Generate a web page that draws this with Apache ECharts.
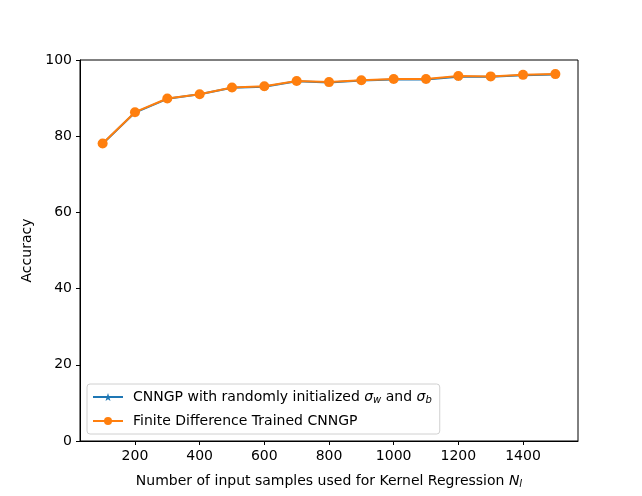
<!DOCTYPE html>
<html>
<head>
<meta charset="utf-8">
<script src="https://cdn.jsdelivr.net/npm/echarts@6/dist/echarts.min.js"></script>
<style>
html, body { margin: 0; padding: 0; background: #fff; }
#main { width: 642px; height: 496px; }
</style>
</head>
<body>
<div id="main"></div>
<script>
// data
var samples = [100, 200, 300, 400, 500, 600, 700, 800, 900, 1000, 1100, 1200, 1300, 1400, 1500];
var randomInit = [78.0, 86.2, 89.8, 91.0, 92.7, 93.0, 94.4, 94.1, 94.6, 94.9, 94.9, 95.6, 95.6, 96.0, 96.2];
var fdTrained = [78.1, 86.3, 89.9, 91.0, 92.8, 93.1, 94.5, 94.2, 94.7, 95.0, 95.0, 95.8, 95.7, 96.1, 96.3];
var xTicks = [200, 400, 600, 800, 1000, 1200, 1400];

var font = 'DejaVu Sans';
var star = 'path://M0,-10L2.35,-3.24L9.51,-3.09L3.8,1.24L5.88,8.09L0,4L-5.88,8.09L-3.8,1.24L-9.51,-3.09L-2.35,-3.24Z';

function pairs(ys) {
    return samples.map(function (x, i) { return [x, ys[i]]; });
}

var chart = echarts.init(document.getElementById('main'));

chart.setOption({
    animation: false,
    textStyle: { fontFamily: font },
    grid: { left: 80, right: 64, top: 60, bottom: 55 },
    legend: {
        orient: 'vertical',
        left: 87,
        top: 384,
        itemWidth: 30,
        itemHeight: 10,
        itemGap: 9,
        padding: [6, 8, 6, 5],
        borderColor: '#d0d0d0',
        borderWidth: 1,
        borderRadius: 3,
        backgroundColor: 'rgba(255,255,255,0.8)',
        textStyle: {
            fontFamily: font,
            fontSize: 14,
            color: '#000',
            padding: [0, 0, 0, 5],
            rich: {
                s: { fontFamily: font, fontStyle: 'italic', fontSize: 14, color: '#000' },
                sub: { fontFamily: font, fontStyle: 'italic', fontSize: 10, color: '#000', padding: [6, 0, 0, 0] }
            }
        },
        formatter: function (name) {
            if (name === 'random') {
                return 'CNNGP with randomly initialized {s|σ}{sub|w} and {s|σ}{sub|b}';
            }
            return 'Finite Difference Trained CNNGP';
        },
        data: ['random', 'fd']
    },
    xAxis: {
        type: 'value',
        min: 30,
        max: 1570,
        name: 'Number of input samples used for Kernel Regression {n|N}{sub|l}',
        nameLocation: 'middle',
        nameGap: 32,
        nameTextStyle: {
            fontFamily: font,
            fontSize: 14,
            color: '#000',
            rich: {
                n: { fontFamily: font, fontStyle: 'italic', fontSize: 14, color: '#000' },
                sub: { fontFamily: font, fontStyle: 'italic', fontSize: 10, color: '#000', padding: [6, 0, 0, 0] }
            }
        },
        splitLine: { show: false },
        axisLine: { onZero: false, lineStyle: { color: '#000', width: 1 } },
        axisTick: { customValues: xTicks, length: 4, lineStyle: { color: '#000' } },
        axisLabel: {
            customValues: xTicks, fontSize: 14, color: '#000', margin: 8, fontFamily: font,
            formatter: function (v) { return String(v); }
        }
    },
    yAxis: {
        type: 'value',
        min: 0,
        max: 100,
        interval: 20,
        name: 'Accuracy',
        nameLocation: 'middle',
        nameGap: 40,
        nameTextStyle: { fontFamily: font, fontSize: 14, color: '#000' },
        splitLine: { show: false },
        axisLine: { show: true, lineStyle: { color: '#000', width: 1 } },
        axisTick: { show: true, length: 4, lineStyle: { color: '#000' } },
        axisLabel: { fontSize: 14, color: '#000', margin: 8, fontFamily: font }
    },
    series: [
        {
            name: 'random',
            type: 'line',
            data: pairs(randomInit),
            symbol: star,
            symbolSize: 8,
            showAllSymbol: true,
            itemStyle: { color: '#1f77b4' },
            lineStyle: { color: '#1f77b4', width: 2 }
        },
        {
            name: 'fd',
            type: 'line',
            data: pairs(fdTrained),
            symbol: 'circle',
            symbolSize: 10,
            showAllSymbol: true,
            itemStyle: { color: '#ff7f0e' },
            lineStyle: { color: '#ff7f0e', width: 2 }
        }
    ]
});

// right and top spines
chart.setOption({
    graphic: [{
        type: 'rect',
        shape: { x: 80, y: 60, width: 498, height: 381 },
        style: { fill: 'none', stroke: '#000', lineWidth: 1 },
        silent: true,
        z: 10
    }]
});
</script>
</body>
</html>
